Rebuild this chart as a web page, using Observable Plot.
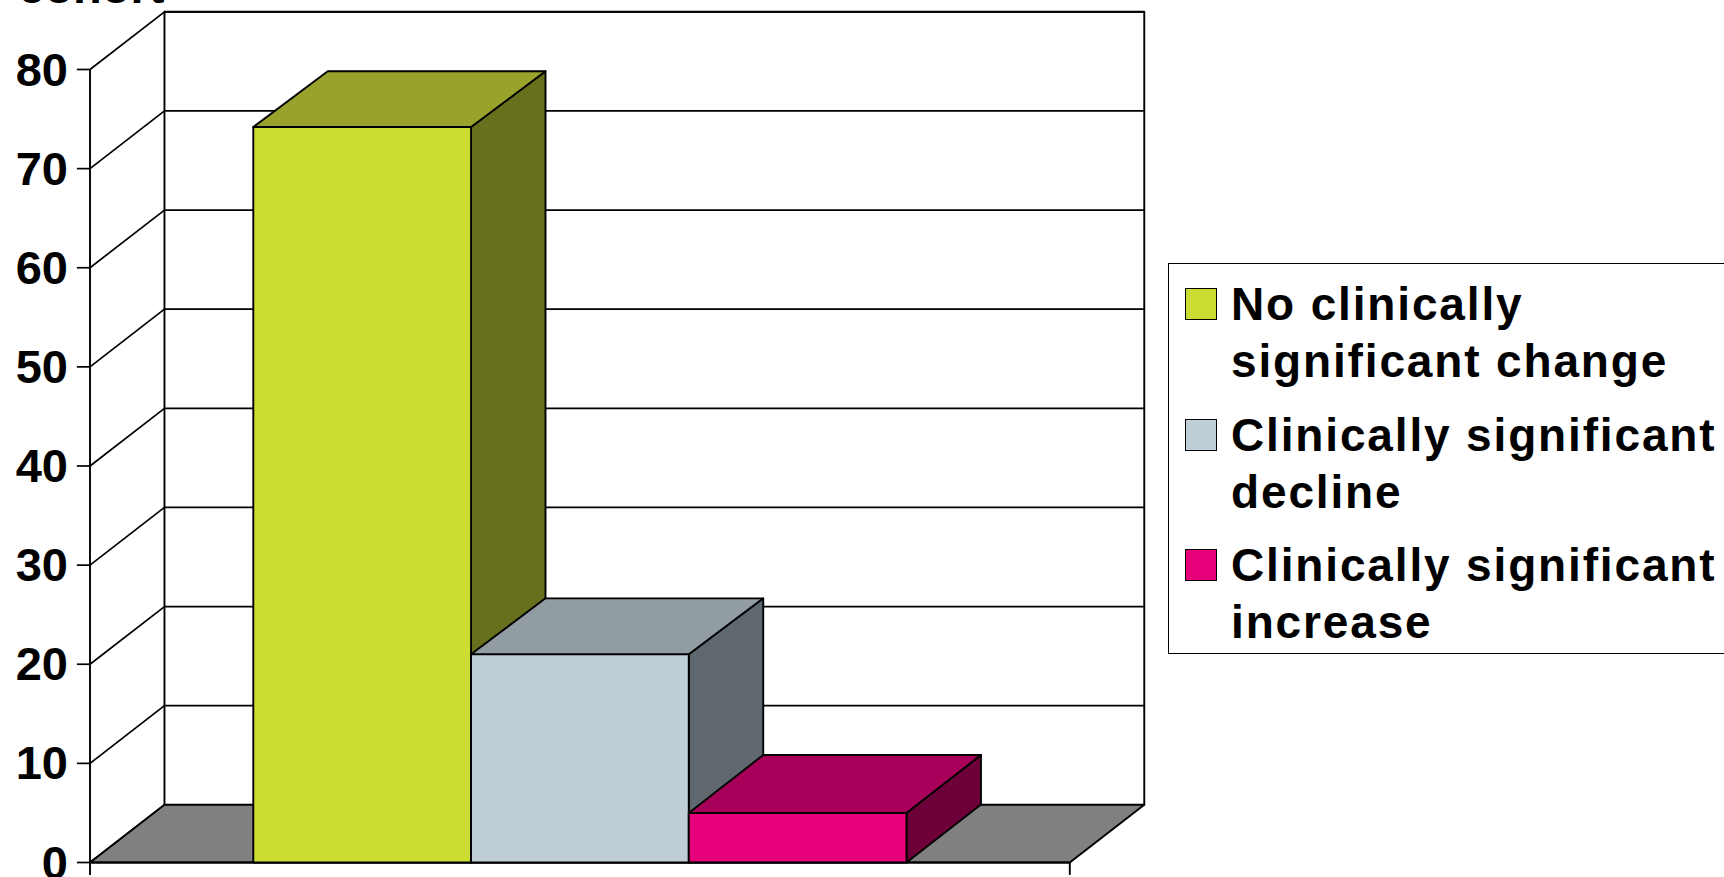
<!DOCTYPE html>
<html>
<head>
<meta charset="utf-8">
<script src="https://cdn.jsdelivr.net/npm/d3@7"></script>
<script src="https://cdn.jsdelivr.net/npm/@observablehq/plot@0.6"></script>
<style>
  html, body { margin: 0; padding: 0; background: #fff; overflow: hidden; }
  #stage { position: relative; width: 1724px; height: 877px; overflow: hidden;
           font-family: "Liberation Sans", Arial, sans-serif; font-weight: bold; color: #000; }
  #stage svg { display: block; }
  #legend { position: absolute; left: 1168px; top: 263px; width: 700px; height: 389px;
            border: 1.5px solid #000; background: #fff; box-sizing: content-box; }
  .entry { position: absolute; left: 62px; font-size: 46px; line-height: 57px;
           letter-spacing: 1.85px; white-space: pre-line; }
  .swatch { position: absolute; left: 16px; width: 32px; height: 32px;
            border: 1.8px solid #000; box-sizing: border-box; }
</style>
</head>
<body>
<div id="stage"></div>
<script>
// Share of the cohort in each outcome group
const categories = ["No clinically\nsignificant change", "Clinically significant\ndecline", "Clinically significant\nincrease"];
const values = [74.2, 21, 5];
const frontColors = ["#cbdc33", "#c0ced7", "#e6007a"];
const topColors = ["#99a32b", "#919da3", "#a8005a"];
const sideColors = ["#67711d", "#60686f", "#6d0038"];
const yTicks = [0, 10, 20, 30, 40, 50, 60, 70, 80];
const axisTitle = "cohort";
const floorColor = "#808080";

// Extent of the box: bars occupy one x unit each with a 0.75 gap at both ends,
// and the oblique depth is expressed in x units and y units.
const xMin = -0.75, xMax = 3.75, yMax = 80;
const depthX = 0.342, depthY = 5.82;
const barDepthY = [5.62, 5.65, 5.85];

// A closed polygon in data units, drawn by Plot.line with a fill
const face = (id, fill, corners) =>
  [...corners, corners[0]].map(([x, y]) => ({id, fill, x, y}));

const floor = face("floor", floorColor, [
  [xMin, 0], [xMin + depthX, depthY], [xMax + depthX, depthY], [xMax, 0]
]);

const barFaces = categories.flatMap((c, i) => {
  const v = values[i];
  const d = barDepthY[i];
  const right = [[i + 1, 0], [i + 1 + depthX, d], [i + 1 + depthX, v + d], [i + 1, v]];
  const top = [[i, v], [i + depthX, v + d], [i + 1 + depthX, v + d], [i + 1, v]];
  const front = [[i, 0], [i, v], [i + 1, v], [i + 1, 0]];
  return [
    ...face(`side${i}`, sideColors[i], right),
    ...face(`top${i}`, topColors[i], top),
    ...face(`front${i}`, frontColors[i], front)
  ];
});

// Gridlines run along the side wall and then across the back wall
const gridLines = yTicks.flatMap(t => [
  {id: t, x: xMin, y: t},
  {id: t, x: xMin + depthX, y: t + depthY},
  {id: t, x: xMax + depthX, y: t + depthY}
]);

const wall = [
  {id: "back", x: xMin + depthX, y: depthY},
  {id: "back", x: xMin + depthX, y: yMax + depthY},
  {id: "back", x: xMax + depthX, y: yMax + depthY},
  {id: "back", x: xMax + depthX, y: depthY}
];

const chart = Plot.plot({
  width: 1724,
  height: 877,
  margin: 0,
  style: {background: "#fff", fontFamily: '"Liberation Sans", Arial, sans-serif'},
  x: {domain: [xMin, xMax], range: [89.5, 1069.3], axis: null},
  y: {domain: [0, yMax], range: [862, 69], axis: null},
  color: {type: "identity"},
  marks: [
    Plot.line(wall, {x: "x", y: "y", z: "id", stroke: "#000", strokeWidth: 1.9}),
    Plot.line(gridLines, {x: "x", y: "y", z: "id", stroke: "#000", strokeWidth: 1.7}),
    Plot.line(floor, {x: "x", y: "y", z: "id", fill: "fill", stroke: "#000", strokeWidth: 2}),
    // Axis line and its outward ticks
    Plot.ruleX([xMin], {y1: -1.3, y2: yMax, stroke: "#000", strokeWidth: 1.9}),
    Plot.ruleX([xMax], {y1: -1.3, y2: 0, stroke: "#000", strokeWidth: 1.9}),
    Plot.ruleY(yTicks, {x1: xMin - 0.058, x2: xMin, stroke: "#000", strokeWidth: 1.7}),
    Plot.ruleY([0], {x1: xMin, x2: xMax, stroke: "#000", strokeWidth: 2.2}),
    Plot.line(barFaces, {x: "x", y: "y", z: "id", fill: "fill", stroke: "#000", strokeWidth: 1.9}),
    Plot.text(yTicks, {
      x: xMin, y: d => d, text: d => String(d), dx: -22, dy: 1,
      textAnchor: "end", lineAnchor: "middle",
      fontSize: 47, fontWeight: "bold", fill: "#000"
    }),
    Plot.text([axisTitle], {
      x: xMin + depthX, y: yMax + 6.66, text: d => d,
      textAnchor: "end", lineAnchor: "bottom",
      fontSize: 47, fontWeight: "bold", fill: "#000"
    })
  ]
});

const stage = document.getElementById("stage");
stage.appendChild(chart);

// Legend box, partly running past the right edge of the page
const legend = document.createElement("div");
legend.id = "legend";
categories.forEach((label, i) => {
  const swatch = document.createElement("div");
  swatch.className = "swatch";
  swatch.style.top = `${24 + i * 130.5}px`;
  swatch.style.background = frontColors[i];
  legend.appendChild(swatch);
  const entry = document.createElement("div");
  entry.className = "entry";
  entry.style.top = `${12 + i * 130.5}px`;
  entry.textContent = label;
  legend.appendChild(entry);
});
stage.appendChild(legend);
</script>
</body>
</html>
